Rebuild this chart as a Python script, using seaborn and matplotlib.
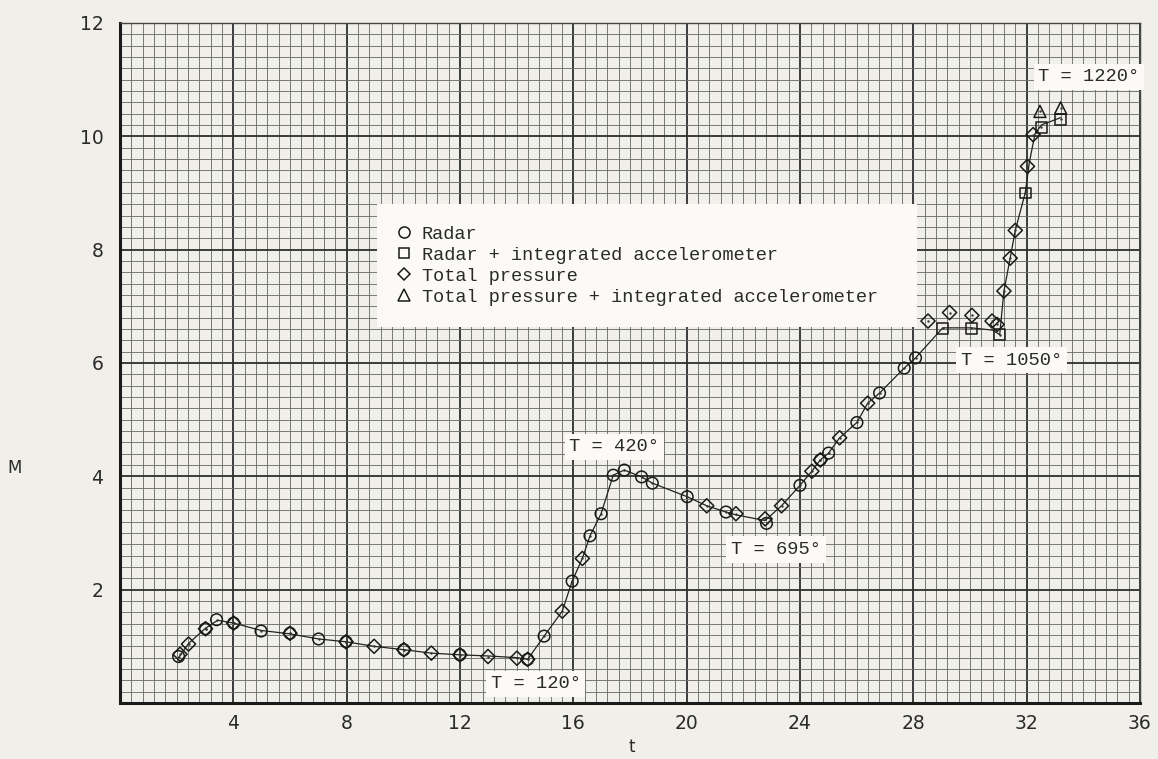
import numpy as np
import pandas as pd
import matplotlib
matplotlib.use("Agg")
import matplotlib.pyplot as plt
from matplotlib.ticker import MultipleLocator, FixedLocator
from matplotlib.lines import Line2D
from matplotlib.patches import Rectangle
import seaborn as sns

# ---------------- data ----------------
radar_t = [2.07, 3.02, 3.41, 4.01, 4.98, 6.00, 7.01, 7.98, 10.02, 12.00, 14.39,
           14.97, 15.96, 16.59, 16.98, 17.41, 17.80, 18.41, 18.79, 20.02, 21.39,
           22.82, 24.00, 24.72, 25.01, 26.01, 26.81, 27.68, 28.08]
radar_M = [0.82, 1.31, 1.47, 1.41, 1.27, 1.23, 1.13, 1.08, 0.94, 0.85, 0.77,
           1.18, 2.15, 2.95, 3.34, 4.02, 4.11, 3.99, 3.88, 3.64, 3.37,
           3.17, 3.84, 4.29, 4.41, 4.95, 5.47, 5.91, 6.09]

radar_acc_t = [29.04, 30.05, 31.05, 31.95, 32.52, 33.20]
radar_acc_M = [6.61, 6.61, 6.50, 9.00, 10.16, 10.30]

press_t = [2.12, 2.42, 3.02, 4.01, 6.00, 7.98, 8.97, 10.02, 10.99, 12.00, 12.99,
           14.01, 14.39, 15.61, 16.32, 20.71, 21.74, 22.77, 23.35, 24.42, 24.72,
           25.40, 26.39, 28.52, 29.28, 30.07, 30.78, 30.96, 31.20, 31.42, 31.60,
           32.03, 32.23]
press_M = [0.86, 1.04, 1.31, 1.41, 1.23, 1.08, 1.00, 0.94, 0.88, 0.85, 0.82,
           0.79, 0.77, 1.62, 2.55, 3.48, 3.34, 3.25, 3.48, 4.09, 4.29,
           4.68, 5.29, 6.74, 6.89, 6.84, 6.74, 6.68, 7.27, 7.85, 8.34,
           9.47, 10.03]

press_acc_t = [32.47, 33.20]
press_acc_M = [10.44, 10.50]

# faired curve drawn through the data
curve_t = [2.07, 2.42, 3.02, 3.45, 4.01, 4.98, 6.00, 7.01, 7.98, 8.97, 10.02,
           10.99, 12.00, 12.99, 14.01, 14.39, 14.97, 15.61, 15.96, 16.32, 16.59,
           16.98, 17.41, 17.80, 18.41, 18.79, 20.02, 20.71, 21.39, 21.74, 22.77,
           23.35, 24.00, 24.42, 24.72, 25.01, 25.40, 26.01, 26.39, 26.81, 27.68,
           28.08, 29.04, 30.05, 30.80, 31.05, 31.20, 31.42, 31.60, 31.95, 32.10,
           32.30, 32.52, 33.20]
curve_M = [0.80, 1.05, 1.32, 1.46, 1.41, 1.28, 1.22, 1.13, 1.08, 1.00, 0.94,
           0.88, 0.85, 0.83, 0.80, 0.77, 1.18, 1.62, 2.15, 2.55, 2.95,
           3.34, 4.02, 4.11, 3.99, 3.88, 3.64, 3.48, 3.37, 3.32, 3.22,
           3.48, 3.84, 4.09, 4.29, 4.41, 4.68, 4.95, 5.29, 5.47, 5.91,
           6.09, 6.62, 6.62, 6.58, 6.50, 7.27, 7.85, 8.34, 9.00, 9.55,
           10.05, 10.20, 10.33]

series_names = ["Radar", "Radar + integrated accelerometer", "Total pressure",
                "Total pressure + integrated accelerometer"]

annot_text = ["T = 120°", "T = 420°", "T = 695°", "T = 1050°", "T = 1220°"]
annot_t = [14.67, 17.45, 23.16, 31.47, 34.20]
annot_M = [0.34, 4.52, 2.71, 6.05, 11.05]

x_ticks = [4, 8, 12, 16, 20, 24, 28, 32, 36]
y_ticks = [2, 4, 6, 8, 10, 12]

# ---------------- styling ----------------
sns.set_theme(style="white")
paper = "#f1efea"
box_white = "#fbfaf7"
plt.rcParams["font.family"] = ["DejaVu Sans"]
mono = ["Liberation Mono", "DejaVu Sans Mono"]

fig = plt.figure(figsize=(11.58, 7.59), dpi=100, facecolor=paper)
ax = fig.add_axes([0.1036, 0.0738, 0.8808, 0.8959])
ax.set_facecolor(paper)

df = pd.concat([
    pd.DataFrame({"t": radar_t, "M": radar_M, "series": series_names[0]}),
    pd.DataFrame({"t": radar_acc_t, "M": radar_acc_M, "series": series_names[1]}),
    pd.DataFrame({"t": press_t, "M": press_M, "series": series_names[2]}),
    pd.DataFrame({"t": press_acc_t, "M": press_acc_M, "series": series_names[3]}),
], ignore_index=True)

markers = {series_names[0]: "o", series_names[1]: "s",
           series_names[2]: "D", series_names[3]: "^"}
sizes = {series_names[0]: 70, series_names[1]: 62,
         series_names[2]: 52, series_names[3]: 75}

# faired line
sns.lineplot(x=curve_t, y=curve_M, sort=False, estimator=None, color="#222222",
             lw=0.9, ax=ax, zorder=3)

for name in series_names:
    sub = df[df["series"] == name]
    sns.scatterplot(data=sub, x="t", y="M", marker=markers[name], s=sizes[name],
                    facecolors="none", edgecolor="#1a1a1a", linewidth=1.1,
                    ax=ax, zorder=4, legend=False)
# centre dots of plotted points
sns.scatterplot(data=df, x="t", y="M", marker="o", s=3, color="#333333",
                linewidth=0, ax=ax, zorder=5, legend=False)

# axes, grid
ax.set_xlim(0, 36)
ax.set_ylim(0, 12)
ax.xaxis.set_major_locator(FixedLocator(x_ticks))
ax.yaxis.set_major_locator(FixedLocator(y_ticks))
ax.xaxis.set_minor_locator(MultipleLocator(0.4))
ax.yaxis.set_minor_locator(MultipleLocator(0.2))
ax.grid(which="minor", color="#6e6e6e", lw=0.65)
ax.grid(which="major", color="#2e2e2e", lw=1.3)
ax.set_axisbelow(True)
ax.tick_params(which="both", length=0)
ax.tick_params(axis="x", pad=8, labelsize=13.5, colors="#2a2a2a")
ax.tick_params(axis="y", pad=12, labelsize=13.5, colors="#2a2a2a")
ax.set_xticklabels([str(v) for v in x_ticks])
ax.set_yticklabels([str(v) for v in y_ticks])

for side in ("top", "right"):
    ax.spines[side].set_color("#444444")
    ax.spines[side].set_linewidth(1.0)
for side in ("left", "bottom"):
    ax.spines[side].set_color("#1a1a1a")
    ax.spines[side].set_linewidth(2.2)

ax.set_xlabel("t", fontsize=12, color="#2a2a2a")
ax.set_ylabel("M", fontsize=12, color="#2a2a2a", rotation=0, va="center", ha="center")
ax.xaxis.set_label_coords(0.502, -0.052)
ax.yaxis.set_label_coords(-0.103, 0.345)

# legend box (white paper area covering grid)
ax.add_patch(Rectangle((9.07, 6.64), 19.06, 2.17, facecolor=box_white,
                       edgecolor="none", zorder=2.5))
handles = [Line2D([], [], ls="", marker=markers[n], mfc="none", mec="#1a1a1a",
                  mew=1.1, ms={"o": 8, "s": 7.5, "D": 6.5, "^": 8}[markers[n]])
           for n in series_names]
leg = ax.legend(handles, series_names, loc="upper left",
                bbox_to_anchor=(0.264, 0.713), frameon=False,
                prop={"family": mono, "size": 13.4}, handlelength=0.8,
                handletextpad=0.55, labelspacing=0.22, borderaxespad=0)
for t in leg.get_texts():
    t.set_color("#2a2a2a")
leg.set_zorder(6)

# temperature annotations
for txt, tx, ty in zip(annot_text, annot_t, annot_M):
    ax.text(tx, ty, txt, ha="center", va="center", family=mono, fontsize=13.5,
            color="#2a2a2a", zorder=6,
            bbox=dict(boxstyle="square,pad=0.25", fc=box_white, ec="none"))

fig.savefig("out.png", dpi=100, facecolor=paper)
